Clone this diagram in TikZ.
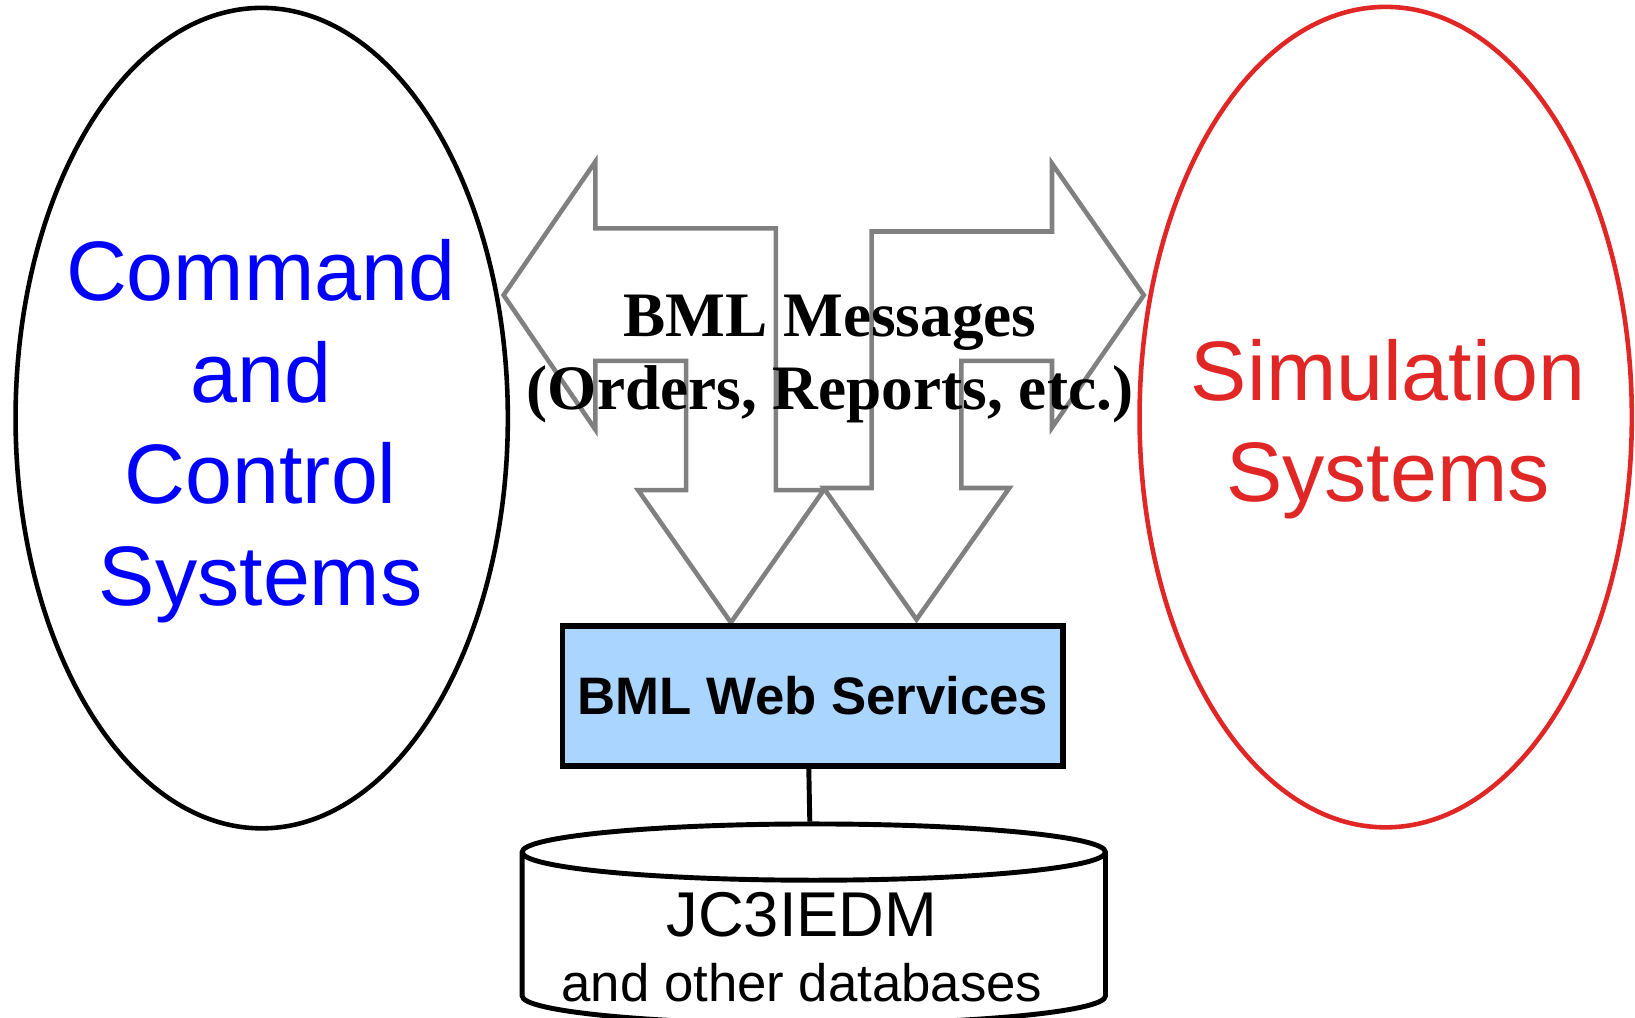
\documentclass[tikz,border=0pt]{standalone}
\usepackage{fontspec}
\setmainfont{Liberation Serif}
\newfontfamily\arialfont{Liberation Sans}
\usepackage{tikz}
\usetikzlibrary{shapes.geometric, positioning}

\definecolor{simred}{RGB}{225,38,38}
\definecolor{wsblue}{RGB}{170,213,255}
\definecolor{arrowgray}{RGB}{128,128,128}

\begin{document}
\begin{tikzpicture}[
    x=0.01cm, y=-0.01cm,
    system/.style={draw, ellipse, line width=1.3pt, minimum width=4.92cm, minimum height=8.2cm},
    systext/.style={align=center, font=\arialfont\fontsize{24}{28.9}\selectfont},
    bigarrow/.style={draw=arrowgray, line width=1.3pt, line join=miter},
    msgtext/.style={align=center, font=\bfseries\fontsize{18}{21}\selectfont},
    service/.style={draw, line width=1.5pt, fill=wsblue, minimum width=5cm, minimum height=1.4cm, font=\arialfont\bfseries\fontsize{15}{18}\selectfont},
    database/.style={draw, cylinder, shape border rotate=90, aspect=2.4, line width=1.4pt, minimum width=5.83cm, minimum height=2cm},
    dbtext/.style={align=center, font=\arialfont\fontsize{15}{18.5}\selectfont},
]
\useasboundingbox (0,0) rectangle (1635,1017);

% the two sides
\node[system] (cc) at (261.7,418.1) {};
\node[system, draw=simred] (sim) at (1385.7,417.1) {};
\node[systext, text=blue] (cclabel) at (260.7,431) {Command\\and\\Control\\Systems};
\node[systext, text=simred] (simlabel) at (1388,429) {Simulation\\Systems};

% message arrows
\draw[bigarrow] (503.6,295.1) -- (595.4,161.6) -- (595.4,228.4) -- (775.8,228.4) -- (775.8,490.1)
    -- (823.7,490.1) -- (730.9,622.5) -- (638.1,490.1) -- (686.1,490.1) -- (686.1,360.8)
    -- (595.4,360.8) -- (595.4,429.6) -- cycle;
\draw[bigarrow] (1143.8,295.1) -- (1052,163.5) -- (1052,231.5) -- (871.6,231.5) -- (871.6,488)
    -- (823.7,488) -- (916.5,619.5) -- (1009.3,488) -- (961.3,488) -- (961.3,360.8)
    -- (1052,360.8) -- (1052,427.5) -- cycle;
\node[msgtext] (msg) at (830,359) {BML Messages\\(Orders, Reports, etc.)};

% services and data
\node[service] (ws) at (812.8,696) {BML Web Services};
\node[database, anchor=shape center] (db) at (813.8,924) {};
\node[dbtext] (dblabel) at (802,947.5) {{\fontsize{18}{18.5}\selectfont JC3IEDM}\\and other databases};
\draw[line width=1.4pt] ([xshift=-0.04cm]ws.south) -- ([xshift=-0.04cm]db.north);
\end{tikzpicture}
\end{document}
